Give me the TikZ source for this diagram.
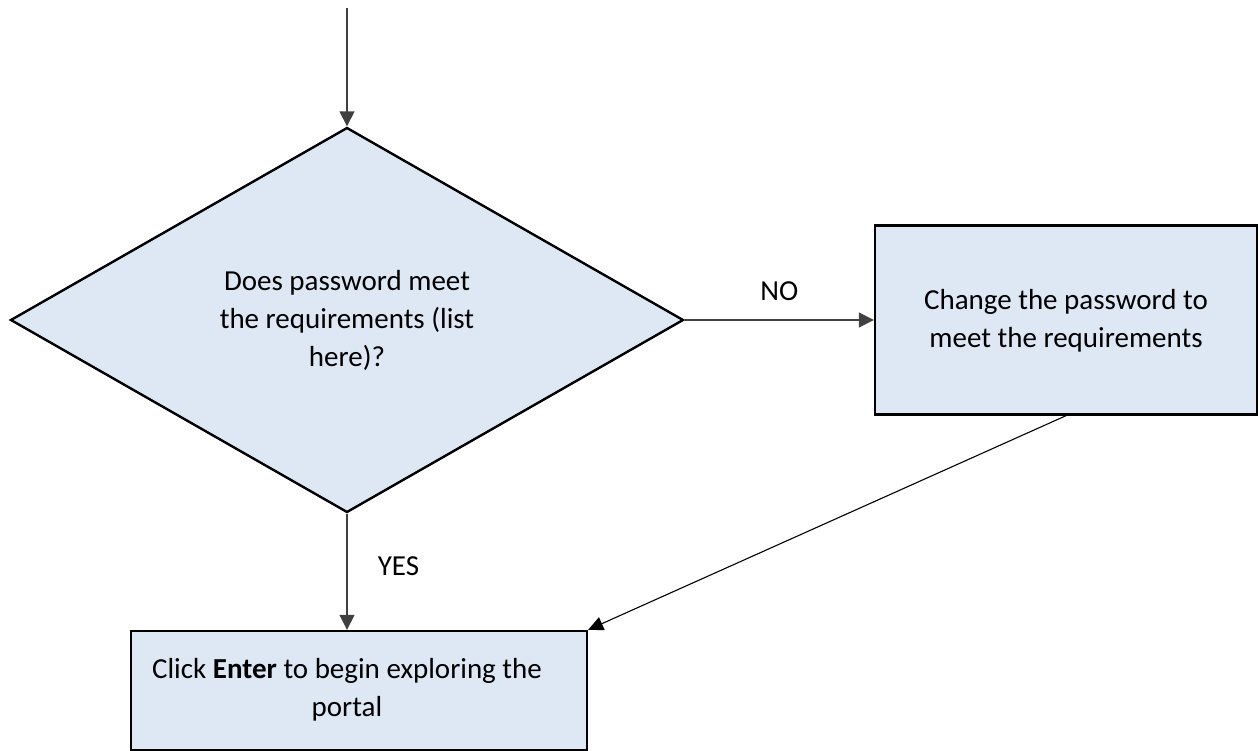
\documentclass[tikz,border=0pt]{standalone}
\usepackage{fontspec}
\setmainfont{Carlito}
\usetikzlibrary{shapes.geometric,arrows.meta}
\definecolor{boxfill}{HTML}{DEE8F4}
\definecolor{conn}{HTML}{404040}
\tikzset{
  shapebox/.style={draw=black,line width=2.4pt,fill=boxfill,inner sep=0pt},
  conline/.style={draw=conn,line width=1.5pt,-{Triangle[length=15pt,width=15pt]}},
  thinline/.style={draw=black,line width=1.1pt,-{Triangle[length=15pt,width=14pt]}},
  lbl/.style={font=\fontsize{29}{38}\selectfont,align=center,inner sep=0pt}
}
\begin{document}
\begin{tikzpicture}[x=1pt,y=-1pt]
\useasboundingbox (0,0) rectangle (1259,751);
\node[shapebox,diamond,minimum width=673pt,minimum height=385pt] (dec) at (347,320) {};
\node[shapebox,rectangle,minimum width=382pt,minimum height=189pt] (chg) at (1066,320) {};
\node[shapebox,rectangle,minimum width=456pt,minimum height=119pt] (ent) at (359,690.5) {};
\node[lbl] (dect) at (347,320) {Does password meet\\the requirements (list\\here)?};
\node[lbl] (chgt) at (1066,321) {Change the password to\\meet the requirements};
\node[lbl] (entt) at (347,690) {Click \textbf{Enter} to begin exploring the\\portal};
\coordinate (start) at (347,8);
\draw[conline] (start) -- (dec.north);
\draw[conline] (dec.east) -- (chg.west) node[lbl,midway,above=19pt] (no) {NO};
\draw[conline] (dec.south) -- (dec.south |- ent.north) node[lbl,pos=0.45,right=30pt] (yes) {YES};
\draw[thinline] (chg.south) -- (ent.north east);
\end{tikzpicture}
\end{document}
